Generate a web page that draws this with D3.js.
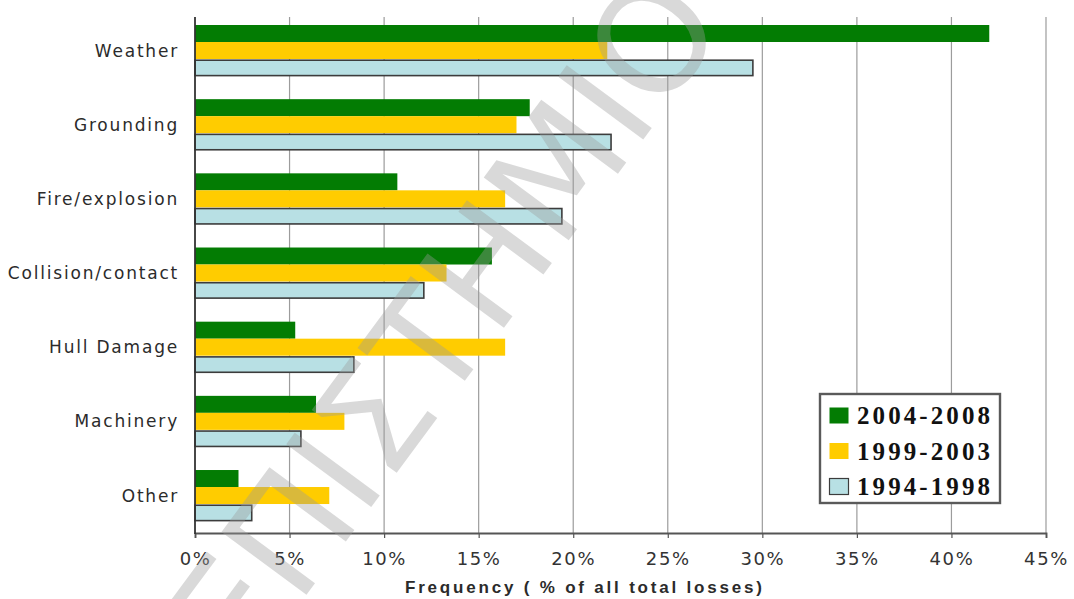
<!DOCTYPE html>
<html>
<head>
<meta charset="utf-8">
<script src="https://cdn.jsdelivr.net/npm/d3@7"></script>
<style>
  body { margin: 0; background: #fff; }
  svg { display: block; }
</style>
</head>
<body>
<svg id="chart" width="1074" height="599"></svg>
<script>
// Causes of total losses, share of all losses per period
const categories = ["Weather", "Grounding", "Fire/explosion", "Collision/contact", "Hull Damage", "Machinery", "Other"];
const seriesNames = ["2004-2008", "1999-2003", "1994-1998"];
const values2004_2008 = [42.0, 17.7, 10.7, 15.7, 5.3, 6.4, 2.3];
const values1999_2003 = [21.8, 17.0, 16.4, 13.3, 16.4, 7.9, 7.1];
const values1994_1998 = [29.5, 22.0, 19.4, 12.1, 8.4, 5.6, 3.0];
const xTickValues = [0, 5, 10, 15, 20, 25, 30, 35, 40, 45];
const xTitle = "Frequency ( % of all total losses)";
const watermarkText = "ΠΑΝΕΠΙΣΤΗΜΙΟ";

const seriesValues = [values2004_2008, values1999_2003, values1994_1998];
const seriesColors = ["#037c03", "#ffcc00", "#b8e0e4"];

const svg = d3.select("#chart");

const plotTop = 17, plotBottom = 533, plotLeft = 195;
const x = d3.scaleLinear().domain([0, 45]).range([plotLeft, 1046]);
const y = d3.scaleBand().domain(categories).range([17.5, 17.5 + 7 * 74.17]);
const inner = d3.scaleBand().domain(seriesNames).range([0, 51]);
const groupOffset = 7.5;

// vertical gridlines
svg.append("g")
  .selectAll("line")
  .data(xTickValues.filter(d => d > 0))
  .join("line")
  .attr("x1", d => x(d)).attr("x2", d => x(d))
  .attr("y1", plotTop).attr("y2", plotBottom)
  .attr("stroke", "#9c9c9c")
  .attr("stroke-width", 1.2);

// bars
const rows = categories.map((c, i) => ({
  cat: c,
  vals: seriesNames.map((s, k) => ({ series: s, k, value: seriesValues[k][i] }))
}));

const groups = svg.append("g").selectAll("g")
  .data(rows)
  .join("g")
  .attr("transform", d => `translate(0,${y(d.cat) + groupOffset})`);

groups.selectAll("rect")
  .data(d => d.vals)
  .join("rect")
  .attr("x", x(0))
  .attr("y", d => inner(d.series) + (d.k === 2 ? 1.2 : 0))
  .attr("width", d => x(d.value) - x(0))
  .attr("height", d => inner.bandwidth() - (d.k === 2 ? 1.6 : 0))
  .attr("fill", d => seriesColors[d.k])
  .attr("stroke", d => d.k === 2 ? "#3c3c3c" : "none")
  .attr("stroke-width", d => d.k === 2 ? 1.6 : 0);

// x axis
const xAxis = d3.axisBottom(x)
  .tickValues(xTickValues)
  .tickFormat(d => d + "%")
  .tickSize(5)
  .tickPadding(14);

const gx = svg.append("g")
  .attr("transform", `translate(0,${plotBottom})`)
  .call(xAxis);
gx.select(".domain").attr("stroke", "#555").attr("stroke-width", 1.8);
gx.selectAll(".tick line").attr("stroke", "#555").attr("stroke-width", 1.2);
gx.selectAll(".tick text")
  .attr("fill", "#333")
  .style("font-family", "'DejaVu Sans', sans-serif")
  .style("font-size", "18px")
  .style("letter-spacing", "1.6px");

// y axis line
svg.append("line")
  .attr("x1", plotLeft).attr("x2", plotLeft)
  .attr("y1", plotTop).attr("y2", plotBottom + 1)
  .attr("stroke", "#333")
  .attr("stroke-width", 1.8);

// category labels, centred on each bar group
svg.append("g").selectAll("text")
  .data(categories)
  .join("text")
  .attr("x", 179)
  .attr("y", d => y(d) + groupOffset + inner.range()[1] / 2)
  .attr("dy", "0.36em")
  .attr("text-anchor", "end")
  .attr("fill", "#2b2b2b")
  .style("font-family", "'DejaVu Sans', sans-serif")
  .style("font-size", "17px")
  .style("letter-spacing", "1.8px")
  .text(d => d);

// x axis title
svg.append("text")
  .attr("x", 405)
  .attr("y", 593)
  .attr("fill", "#2b2b2b")
  .style("font-family", "'Liberation Sans', Arial, sans-serif")
  .style("font-weight", "bold")
  .style("font-size", "17px")
  .attr("textLength", 357)
  .attr("lengthAdjust", "spacing")
  .text(xTitle);

// legend
const legend = svg.append("g").attr("transform", "translate(820,394)");
legend.append("rect")
  .attr("x", 0).attr("y", 0)
  .attr("width", 180).attr("height", 109)
  .attr("fill", "#fff")
  .attr("stroke", "#5a5a5a")
  .attr("stroke-width", 2.4);

const legendRows = legend.selectAll("g.item")
  .data(seriesNames)
  .join("g")
  .attr("class", "item")
  .attr("transform", (d, i) => `translate(0,${13 + i * 35.5})`);

legendRows.append("rect")
  .attr("x", 9.5).attr("y", 0.5)
  .attr("width", 19).attr("height", 16)
  .attr("fill", (d, i) => seriesColors[i])
  .attr("stroke", (d, i) => i === 2 ? "#3c3c3c" : "none")
  .attr("stroke-width", 1.2);

legendRows.append("text")
  .attr("x", 37)
  .attr("y", 17)
  .attr("fill", "#111")
  .style("font-family", "'Liberation Serif', 'Times New Roman', serif")
  .style("font-weight", "bold")
  .style("font-size", "25px")
  .attr("textLength", 133)
  .attr("lengthAdjust", "spacing")
  .text(d => d);

// diagonal watermark
svg.append("text")
  .attr("transform", "translate(728,25) rotate(-53.5)")
  .attr("text-anchor", "end")
  .attr("fill", "#9a9a9a")
  .attr("fill-opacity", 0.38)
  .style("font-family", "'DejaVu Sans', sans-serif")
  .style("font-size", "145px")
  .style("pointer-events", "none")
  .text(watermarkText);
</script>
</body>
</html>
